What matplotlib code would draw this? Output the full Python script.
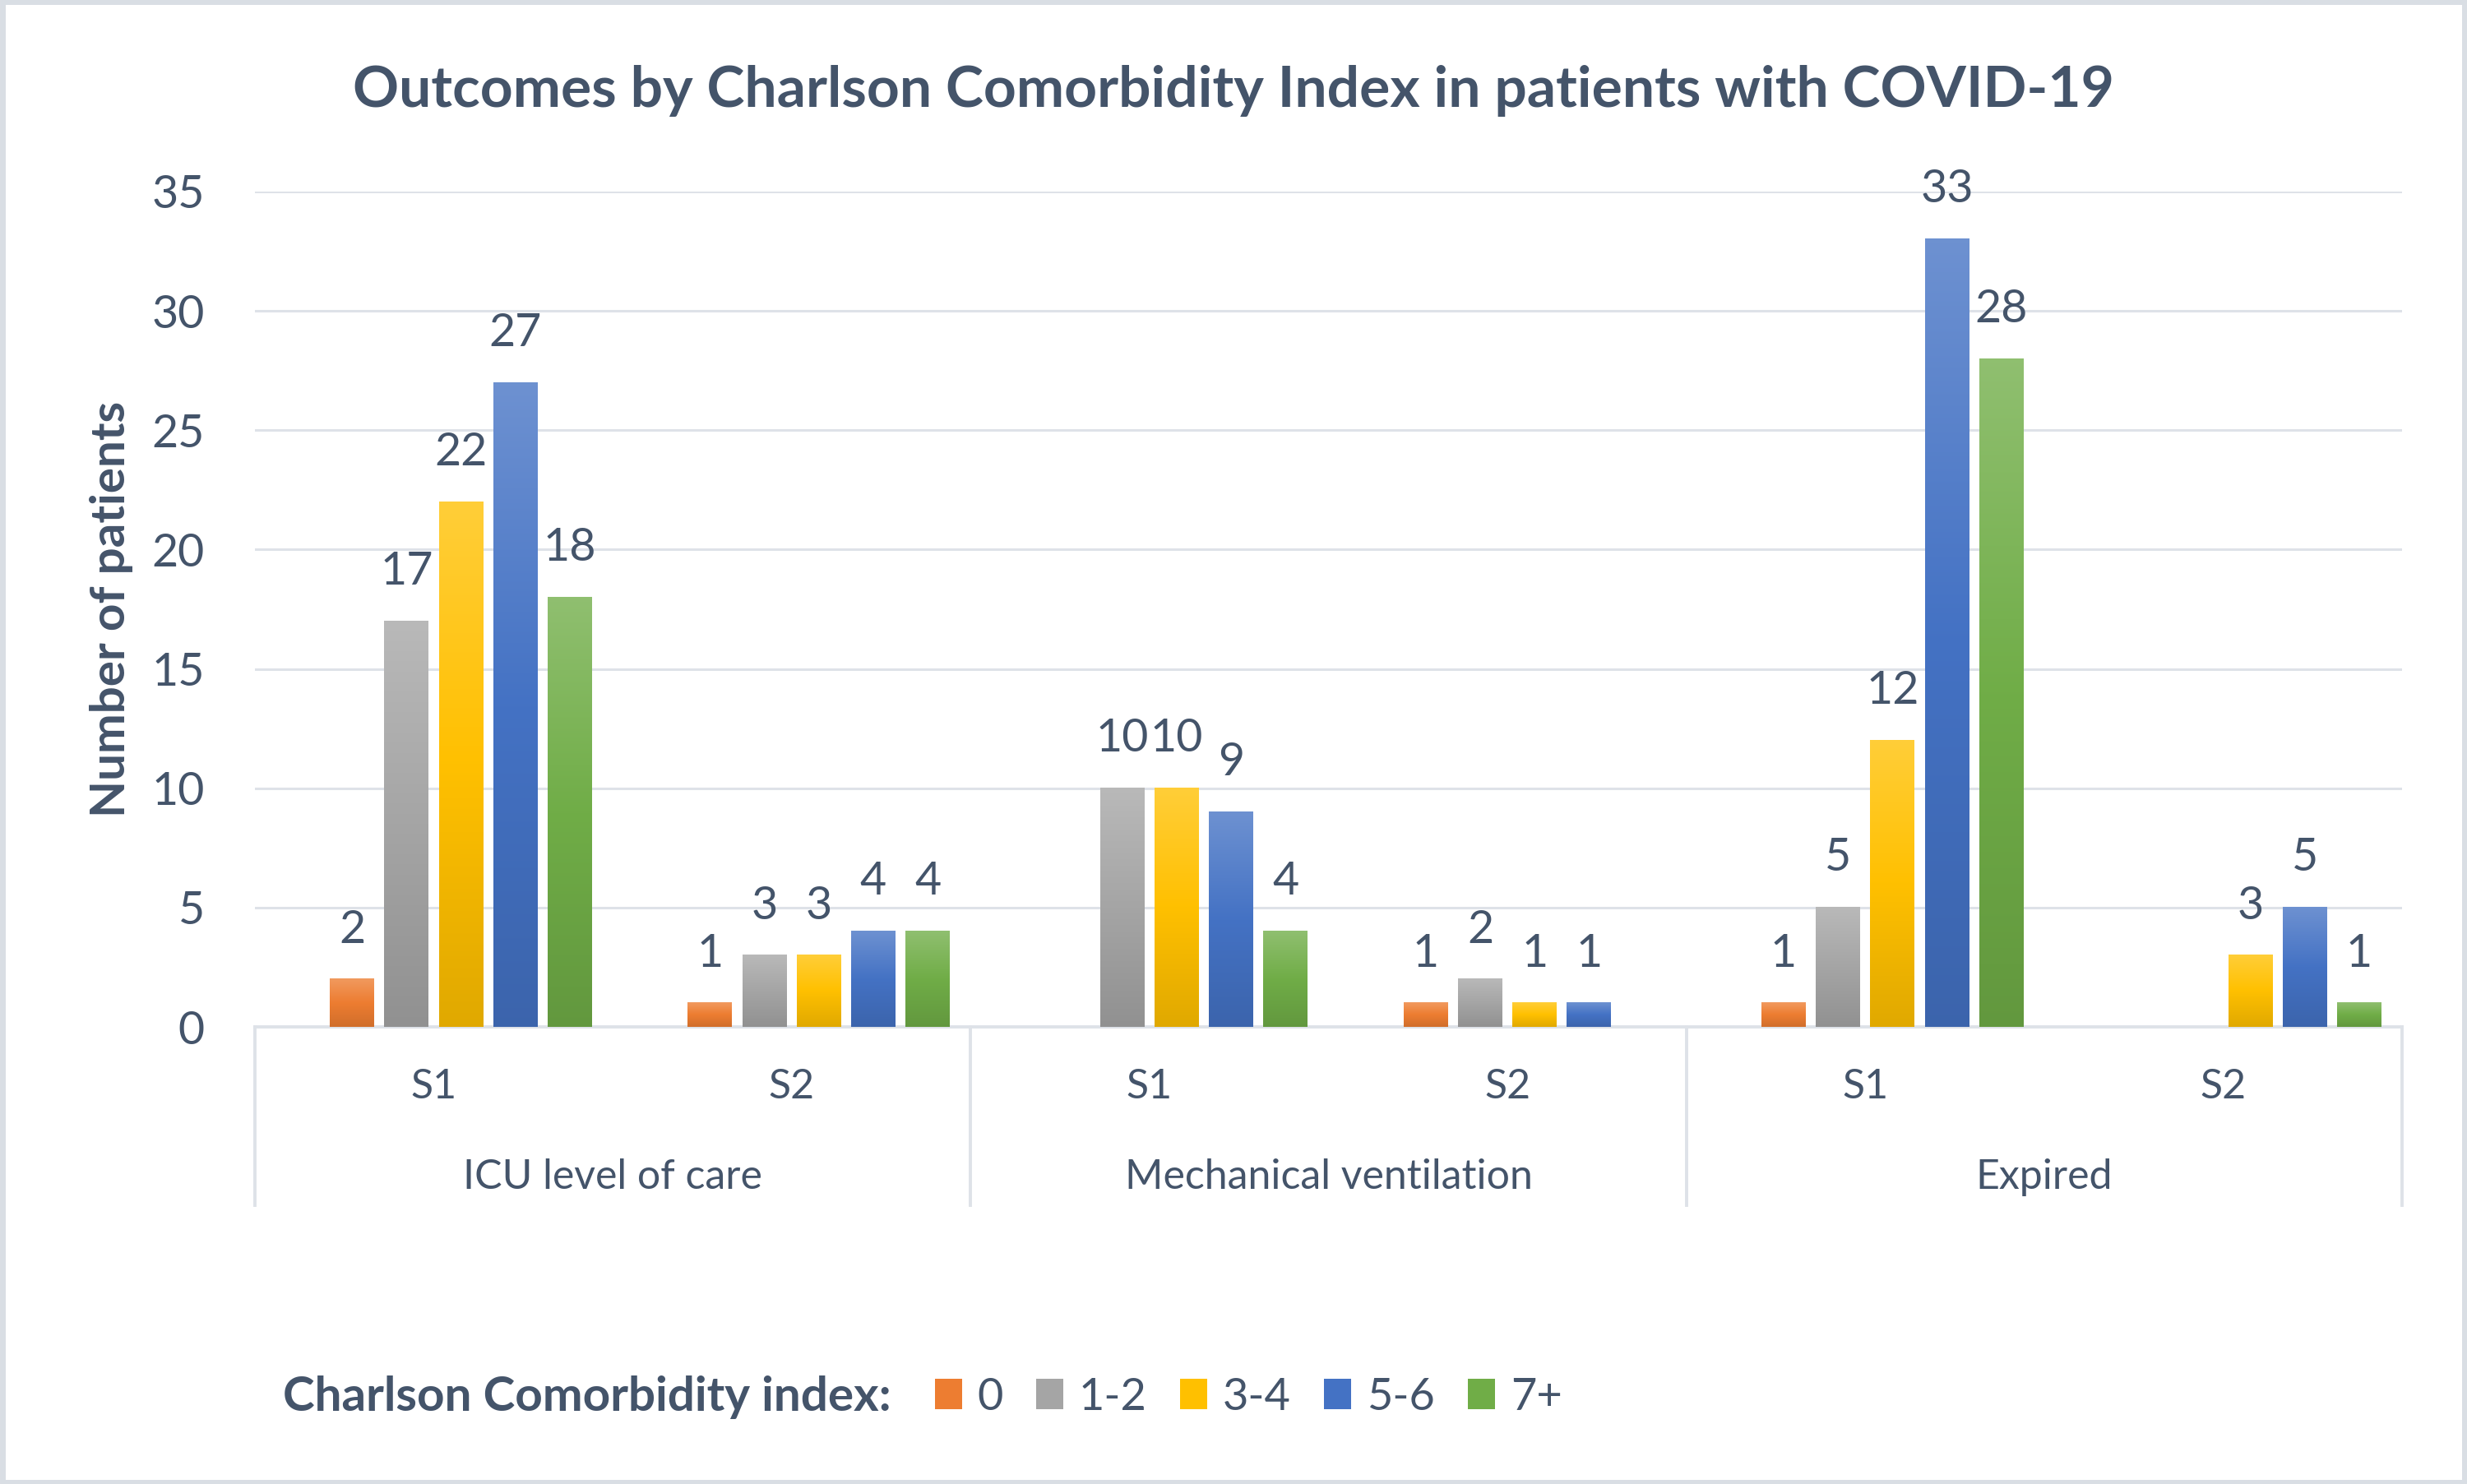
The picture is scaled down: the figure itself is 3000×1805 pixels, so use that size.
import numpy as np
import matplotlib
matplotlib.use('Agg')
import matplotlib.pyplot as plt
import matplotlib.colors as mcolors
from matplotlib.patches import Patch, Rectangle

plt.rcParams['font.family'] = ['Lato', 'DejaVu Sans']

# data
sub_labels = ['S1', 'S2', 'S1', 'S2', 'S1', 'S2']
groups = ['ICU level of care', 'Mechanical ventilation', 'Expired']
series_names = ['0', '1-2', '3-4', '5-6', '7+']
cci_0 = [2, 1, np.nan, 1, 1, np.nan]
cci_1_2 = [17, 3, 10, 2, 5, np.nan]
cci_3_4 = [22, 3, 10, 1, 12, 3]
cci_5_6 = [27, 4, 9, 1, 33, 5]
cci_7p = [18, 4, 4, np.nan, 28, 1]
series = [cci_0, cci_1_2, cci_3_4, cci_5_6, cci_7p]
colors = ['#ED7D31', '#A5A5A5', '#FFC000', '#4472C4', '#70AD47']

txt = '#44546A'
grid_c = '#DEE2E8'

fig = plt.figure(figsize=(15, 9.025), dpi=200)
ax = fig.add_axes([0.1033, 0.308, 0.8704, 0.563])

x = np.arange(len(sub_labels)) + 0.5
step = 0.152
width = 0.124


def gradient_bar(ax, p, color):
    # excel-ish gradient: light top, base middle, darker bottom
    h = p.get_height()
    if not np.isfinite(h) or h <= 0:
        return
    c = np.array(mcolors.to_rgb(color))
    top = c + (1 - c) * 0.22
    bot = c * 0.88
    t = np.linspace(0, 1, 100)[:, None]
    img = np.where(t < 0.5, bot + (c - bot) * (t / 0.5), c + (top - c) * ((t - 0.5) / 0.5))
    img = img[:, None, :]
    ax.imshow(img, extent=[p.get_x(), p.get_x() + p.get_width(), 0, h],
              origin='lower', aspect='auto', zorder=3, interpolation='bilinear')


for j, (vals, col) in enumerate(zip(series, colors)):
    pos = x + (j - 1.5) * step
    bars = ax.bar(pos, vals, width, color='none', edgecolor='none', zorder=3)
    for p, v in zip(bars, vals):
        gradient_bar(ax, p, col)
        if np.isfinite(v):
            ax.annotate(f'{v:g}', (p.get_x() + p.get_width() / 2, v),
                        xytext=(0, 16), textcoords='offset points',
                        ha='center', va='baseline', fontsize=20, color=txt)

ax.set_xlim(0, 6)
ax.set_ylim(0, 35)
ax.set_yticks(range(0, 36, 5))
ax.tick_params(axis='y', length=0, pad=22, labelsize=20, labelcolor=txt)
ax.set_xticks([])
ax.grid(axis='y', color=grid_c, lw=1.1, zorder=0)
ax.set_axisbelow(True)
for s in ['top', 'right', 'left']:
    ax.spines[s].set_visible(False)
ax.spines['bottom'].set_color(grid_c)
ax.spines['bottom'].set_linewidth(1.4)

# category axis labels
trans = ax.get_xaxis_transform()
for xi, lab in zip(x, sub_labels):
    ax.text(xi, -0.072, lab, transform=trans, ha='center', va='center',
            fontsize=18, color=txt)
for g, lab in enumerate(groups):
    ax.text(2 * g + 1, -0.18, lab, transform=trans, ha='center', va='center',
            fontsize=18, color=txt)
for xs in [0, 2, 4, 6]:
    ax.plot([xs, xs], [0, -0.2136], transform=trans, color=grid_c, lw=1.4,
            clip_on=False)

ax.set_ylabel('Number of patients', fontsize=21, fontweight='bold', color=txt,
              labelpad=8)

fig.text(0.5, 0.939, 'Outcomes by Charlson Comorbidity Index in patients with COVID-19',
         ha='center', va='center', fontsize=25, fontweight='bold', color=txt)

# legend
fig.text(0.1147, 0.0587, 'Charlson Comorbidity index:', ha='left', va='center',
         fontsize=21, fontweight='bold', color=txt)
handles = [Patch(facecolor=c, edgecolor='none') for c in colors]
leg = fig.legend(handles, series_names, loc='center left', bbox_to_anchor=(0.379, 0.0587),
                 ncol=5, frameon=False, fontsize=19.5, handlelength=0.6, handleheight=0.66,
                 handletextpad=0.35, columnspacing=0.75, borderpad=0, borderaxespad=0)
for t in leg.get_texts():
    t.set_color(txt)

fig.patches.append(Rectangle((0.001, 0.001), 0.998, 0.998, transform=fig.transFigure,
                             fill=False, edgecolor='#D9DEE4', lw=2.5))

fig.savefig('out.png', dpi=200)
